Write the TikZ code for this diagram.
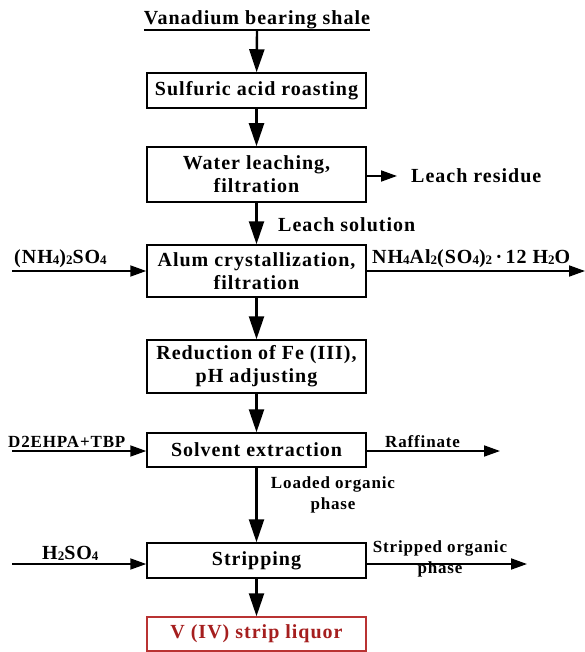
\documentclass[tikz,border=0pt]{standalone}
\usepackage{fontspec}
\setmainfont{Liberation Serif}[LetterSpace=5]
\usetikzlibrary{arrows.meta}
\definecolor{dred}{RGB}{165,30,30}
\definecolor{bred}{RGB}{185,50,50}
\newcommand{\sbs}[1]{\raisebox{-0.2ex}{\fontsize{13}{13}\selectfont #1}}
\begin{document}
\begin{tikzpicture}[x=1pt,y=-1pt,
  box/.style={draw,line width=1.5pt,minimum width=219pt,inner sep=0pt,align=center,
    font=\bfseries\fontsize{20}{23}\selectfont},
  lbl/.style={inner sep=0pt,font=\bfseries\fontsize{20}{23}\selectfont},
  slbl/.style={inner sep=0pt,align=center,font=\bfseries\fontsize{17}{21}\selectfont},
  flow/.style={line width=2.4pt,-{Triangle[length=23pt,width=15pt]}},
  side/.style={line width=1.8pt,-{Triangle[length=16pt,width=11pt]}}]
\useasboundingbox (0,0) rectangle (585,652);

% title
\node[lbl,anchor=base] (title) at (257,25) {Vanadium bearing shale};
\draw[line width=1.6pt] ([yshift=-5pt]title.base west) -- ([yshift=-5pt]title.base east);

% boxes
\node[box,minimum height=35pt] (b1) at (256.5,90.5) {Sulfuric acid roasting};
\node[box,minimum height=55pt] (b2) at (256.5,174.5) {Water leaching,\\ filtration};
\node[box,minimum height=52pt] (b3) at (256.5,271) {Alum crystallization,\\ filtration};
\node[box,minimum height=53pt] (b4) at (256.5,366.5) {Reduction of Fe (III),\\ pH adjusting};
\node[box,minimum height=34pt] (b5) at (256.5,450) {Solvent extraction};
\node[box,minimum height=35pt] (b6) at (256.5,560.5) {Stripping};
\node[box,draw=bred,text=dred,minimum height=34pt] (b7) at (256.5,634) {V (IV) strip liquor};

% main flow
\draw[flow] ([yshift=-5pt]title.base) -- (b1);
\draw[flow] (b1) -- (b2);
\draw[flow] (b2) -- (b3);
\draw[flow] (b3) -- (b4);
\draw[flow] (b4) -- (b5);
\draw[flow] (b5) -- (b6);
\draw[flow] (b6) -- (b7);

% side streams
\coordinate (r2) at (397,176);
\draw[side] (b2.east |- r2) -- (r2);
\node[lbl,anchor=base west] (res) at (411,183) {Leach residue};
\node[lbl,anchor=base west] (sol) at (278,231) {Leach solution};

\coordinate (l3) at (12,271);
\coordinate (r3) at (585,271);
\draw[side] (l3) -- (b3.west);
\draw[side] (b3.east) -- (r3);
\node[lbl,anchor=base west] (nh4) at (14,263) {(NH\sbs{4})\sbs{2}SO\sbs{4}};
\node[lbl,anchor=base west] (alum) at (372,263) {NH\sbs{4}Al\sbs{2}(SO\sbs{4})\sbs{2}\,·\,12 H\sbs{2}O};

\coordinate (l5) at (12,451);
\coordinate (r5) at (500,451);
\draw[side] (l5) -- (l5 -| b5.west);
\draw[side] (r5 -| b5.east) -- (r5);
\node[slbl,anchor=base west] (d2) at (8,447.5) {D2EHPA+TBP};
\node[slbl,anchor=base west] (raf) at (385,447) {Raffinate};
\node[slbl,anchor=north] (load) at (333,476) {Loaded organic\\ phase};

\coordinate (l6) at (12,564);
\coordinate (r6) at (527,564);
\draw[side] (l6) -- (l6 -| b6.west);
\draw[side] (r6 -| b6.east) -- (r6);
\node[lbl,anchor=base west] (h2) at (42,559) {H\sbs{2}SO\sbs{4}};
\node[slbl,anchor=north] (strip) at (440,540) {Stripped organic\\ phase};
\end{tikzpicture}
\end{document}
